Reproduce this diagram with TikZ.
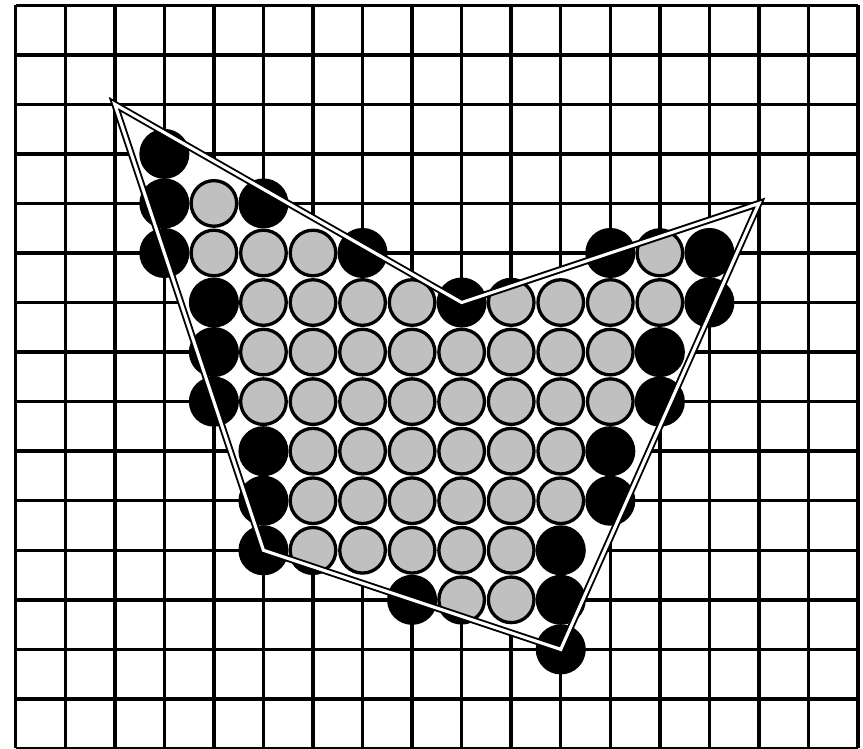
\documentclass[tikz,border=0pt]{standalone}
\definecolor{pixgray}{RGB}{192,192,192}
\tikzset{
  pixon/.style={fill=black},
  pixin/.style={fill=pixgray, draw=black, line width=1.9pt},
  polyedge/.style={draw=black, line width=1.1pt, double=white, double distance=1.8pt}
}

\begin{document}
\begin{tikzpicture}[x=1cm, y=1cm]
  % Fixed bounding box (grid plus margins)
  \path[use as bounding box] (-0.317,-0.01) rectangle (17.1,15.106);

  \colorlet{gridcol}{black}

  % Pixel grid.
  \draw[line width=2pt, gridcol] (0,0) grid (17,15);

  % Corners of the polygon.
  \coordinate (A) at (2,13);
  \coordinate (B) at (9,9);
  \coordinate (C) at (15,11);
  \coordinate (D) at (11,2);
  \coordinate (E) at (5,4);

  % Interior pixels: dark part seen outside the polygon.
  \foreach \y/\row in {11/{4}, 10/{4,5,6,13}, 9/{5,6,7,8,10,11,12,13},
      8/{5,...,12}, 7/{5,...,12}, 6/{6,...,11}, 5/{6,...,11},
      4/{6,...,10}, 3/{9,10}}
    \foreach \x in \row
      \fill[pixon] (\x,\y) circle (0.5);

  % Inside of the polygon hides the grid.
  \fill[white] (A) -- (B) -- (C) -- (D) -- (E) -- cycle;

  % Edge pixels.
  \foreach \x/\y in {3/12, 3/11, 5/11, 3/10, 7/10, 12/10, 14/10,
      4/9, 9/9, 14/9, 4/8, 13/8, 4/7, 13/7, 5/6, 12/6,
      5/5, 12/5, 5/4, 11/4, 8/3, 11/3, 11/2}
    \fill[pixon] (\x,\y) circle (0.505);

  % Interior pixels, cut by the polygon.
  \begin{scope}
    \clip (A) -- (B) -- (C) -- (D) -- (E) -- cycle;
    \foreach \y/\row in {11/{4}, 10/{4,5,6,13}, 9/{5,6,7,8,10,11,12,13},
        8/{5,...,12}, 7/{5,...,12}, 6/{6,...,11}, 5/{6,...,11},
        4/{6,...,10}, 3/{9,10}}
      \foreach \x in \row
        \draw[pixin] (\x,\y) circle (0.46);
  \end{scope}

  % Polygon outline.
  \draw[polyedge] (A) -- (B) -- (C) -- (D) -- (E) -- cycle;
\end{tikzpicture}
\end{document}
